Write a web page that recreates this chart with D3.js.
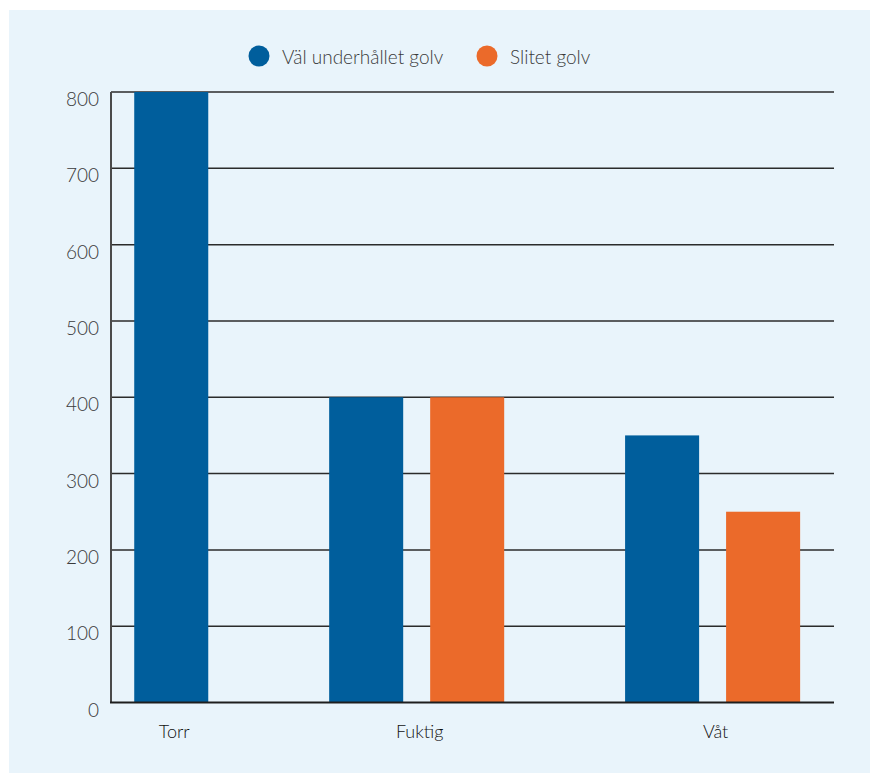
<!doctype html>
<html lang="sv">
<head>
<meta charset="UTF-8">
<title>Golv</title>
<style>
  body { margin: 0; background: #fff; }
  svg { display: block; font-family: Lato, "Open Sans", sans-serif; font-weight: 300; }
</style>
</head>
<body>
<svg id="chart"></svg>
<script src="https://d3js.org/d3.v7.min.js"></script>
<script>
// data
var categories = ["Torr", "Fuktig", "Våt"];
var seriesNames = ["Väl underhållet golv", "Slitet golv"];
var wellKept = [800, 400, 350];
var worn = [null, 400, 250];
var yTicks = [0, 100, 200, 300, 400, 500, 600, 700, 800];

var colors = ["#005e9c", "#eb6a2a"];
var width = 870, height = 773;
var margin = { left: 111, right: 36, top: 92, bottom: 70 };

var svg = d3.select("#chart").attr("width", width).attr("height", height);

// panel background
svg.append("rect")
  .attr("x", 9).attr("y", 10)
  .attr("width", width - 9).attr("height", height - 10)
  .attr("fill", "#e9f4fb");

// rows: one entry per category with the bars that exist
var rows = categories.map(function(c, i) {
  var vals = [wellKept[i], worn[i]];
  var bars = [];
  vals.forEach(function(v, s) { if (v != null) bars.push({ series: s, value: v }); });
  return { category: c, bars: bars };
});

// slot layout: each bar is one slot unit, groups separated by a gap
var leftPad = 0.23, groupGap = 0.93, barFrac = 0.733;
var cursor = leftPad;
rows.forEach(function(r) {
  r.start = cursor;
  r.bars.forEach(function(b, j) { b.slot = cursor + j; });
  cursor += r.bars.length + groupGap;
});
var slotPx = 101;
var x = d3.scaleLinear()
  .domain([0, (width - margin.left - margin.right) / slotPx])
  .range([margin.left, width - margin.right]);

var y = d3.scaleLinear()
  .domain([0, 800])
  .range([height - margin.bottom - 0.5, margin.top]);

// gridlines
svg.append("g")
  .selectAll("line")
  .data(yTicks.filter(function(t) { return t > 0; }))
  .join("line")
  .attr("x1", margin.left).attr("x2", width - margin.right)
  .attr("y1", function(d) { return y(d); }).attr("y2", function(d) { return y(d); })
  .attr("stroke", "#2b2b2b").attr("stroke-width", 1.5);

// bars
var barW = x(barFrac) - x(0);
svg.append("g")
  .selectAll("g")
  .data(rows)
  .join("g")
  .selectAll("rect")
  .data(function(r) { return r.bars; })
  .join("rect")
  .attr("x", function(b) { return x(b.slot); })
  .attr("width", barW)
  .attr("y", function(b) { return y(b.value); })
  .attr("height", function(b) { return y(0) - y(b.value); })
  .attr("fill", function(b) { return colors[b.series]; });

// y axis line
svg.append("line")
  .attr("x1", margin.left).attr("x2", margin.left)
  .attr("y1", y(800)).attr("y2", y(0))
  .attr("stroke", "#4a4a4a").attr("stroke-width", 2);

// baseline
svg.append("line")
  .attr("x1", margin.left - 1).attr("x2", width - margin.right)
  .attr("y1", y(0)).attr("y2", y(0))
  .attr("stroke", "#1e1e1e").attr("stroke-width", 2);

// y tick labels
svg.append("g")
  .selectAll("text")
  .data(yTicks)
  .join("text")
  .attr("x", margin.left - 12)
  .attr("y", function(d) { return y(d) + 14; })
  .attr("text-anchor", "end")
  .attr("font-size", 19)
  .attr("fill", "#3a3a3a")
  .text(function(d) { return d; });

// category labels, centred under the bars of each group
svg.append("g")
  .selectAll("text")
  .data(rows)
  .join("text")
  .attr("x", function(r) {
    var first = r.bars[0].slot, last = r.bars[r.bars.length - 1].slot;
    return (x(first) + x(last) + barW) / 2 + 3;
  })
  .attr("y", y(0) + 35)
  .attr("text-anchor", "middle")
  .attr("font-size", 18)
  .attr("fill", "#111")
  .text(function(r) { return r.category; });

// legend
var legendX = [259, 487];
var legend = svg.append("g")
  .selectAll("g")
  .data(seriesNames)
  .join("g")
  .attr("transform", function(d, i) { return "translate(" + legendX[i] + ",56)"; });
legend.append("circle").attr("r", 10.5).attr("fill", function(d, i) { return colors[i]; });
legend.append("text")
  .attr("x", 23).attr("y", 8)
  .attr("font-size", 19)
  .attr("fill", "#3a3a3a")
  .text(function(d) { return d; });
</script>
</body>
</html>
